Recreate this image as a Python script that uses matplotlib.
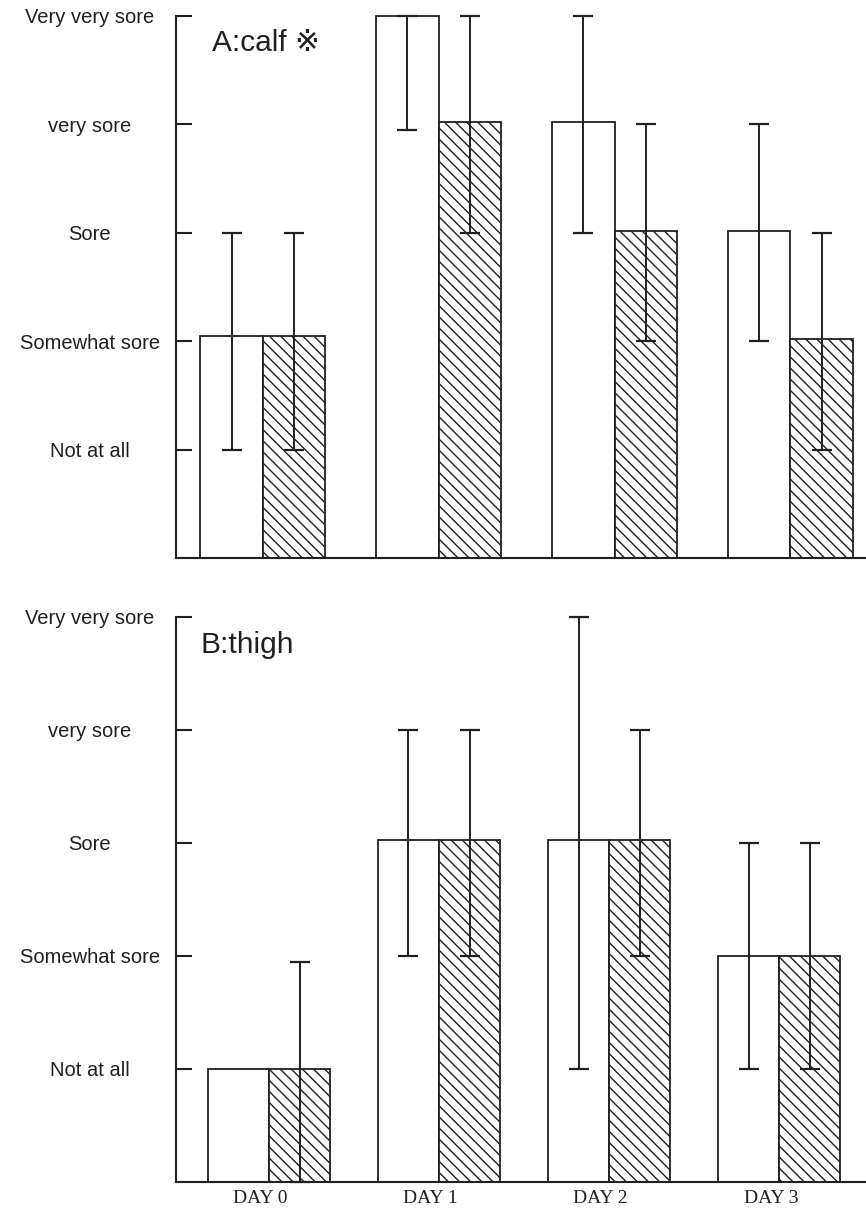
import numpy as np
import matplotlib.pyplot as plt

# soreness scale and days
days = ['DAY 0', 'DAY 1', 'DAY 2', 'DAY 3']
levels = [1, 2, 3, 4, 5]
level_labels = ['Not at all', 'Somewhat sore', 'Sore', 'very sore', 'Very very sore']

# A: calf
calf_white = [2.05, 5.0, 4.02, 3.02]
calf_white_lo = [1.0, 3.95, 3.0, 2.0]
calf_white_hi = [3.0, 5.0, 5.0, 4.0]
calf_hatch = [2.05, 4.02, 3.02, 2.02]
calf_hatch_lo = [1.0, 3.0, 2.0, 1.0]
calf_hatch_hi = [3.0, 5.0, 4.0, 3.0]

# B: thigh
thigh_white = [1.0, 3.03, 3.03, 2.0]
thigh_white_lo = [np.nan, 2.0, 1.0, 1.0]
thigh_white_hi = [np.nan, 4.0, 5.0, 3.0]
thigh_hatch = [1.0, 3.03, 3.03, 2.0]
thigh_hatch_lo = [0.0, 2.0, 2.0, 1.0]
thigh_hatch_hi = [1.95, 4.0, 4.0, 3.0]

ink = '#231f20'
plt.rcParams['hatch.linewidth'] = 1.0
plt.rcParams['hatch.color'] = ink

fig = plt.figure(figsize=(8.66, 12.14), dpi=100)
ax_a = fig.add_axes([0.2032, 0.5404, 0.7968, 0.4465])
ax_b = fig.add_axes([0.2032, 0.0264, 0.7968, 0.4654])


def draw_panel(ax, white, w_lo, w_hi, hatch, h_lo, h_hi, title, xlim, width):
    x = np.arange(len(days))
    white = np.array(white)
    hatch = np.array(hatch)
    ax.bar(x - width, white, width, align='edge', color='white',
           edgecolor=ink, linewidth=1.3, clip_on=False, zorder=2)
    ax.bar(x, hatch, width, align='edge', color='white', edgecolor=ink,
           linewidth=1.3, hatch='\\\\\\', clip_on=False, zorder=2)
    for xs, vals, lo, hi in [(x - width / 2, white, w_lo, w_hi),
                             (x + width / 2, hatch, h_lo, h_hi)]:
        lo = np.array(lo)
        hi = np.array(hi)
        err = [vals - lo, hi - vals]
        eb = ax.errorbar(xs, vals, yerr=err, fmt='none', ecolor=ink,
                         elinewidth=1.4, capsize=7.2, capthick=1.6, zorder=3)
        for art in eb.lines[1] + eb.lines[2]:
            art.set_clip_on(False)

    ax.set_xlim(*xlim)
    ax.set_ylim(0, 5)
    ax.set_yticks(levels)
    ax.set_yticklabels(level_labels, fontsize=14.5, family='Liberation Sans',
                       color=ink, ha='center')
    ax.tick_params(axis='y', direction='in', length=11.5, width=1.5,
                   color=ink, pad=62)
    ax.spines['top'].set_visible(False)
    ax.spines['right'].set_visible(False)
    for s in ['left', 'bottom']:
        ax.spines[s].set_linewidth(1.5)
        ax.spines[s].set_color(ink)
    ax.text(title[1], title[2], title[0], transform=ax.transAxes,
            fontsize=21.5, family=['Liberation Sans', 'DejaVu Sans'],
            color=ink, va='baseline', ha='left')
    return x


x = draw_panel(ax_a, calf_white, calf_white_lo, calf_white_hi,
               calf_hatch, calf_hatch_lo, calf_hatch_hi,
               ('A:calf \u203b', 0.052, 0.936), (-0.494, 3.43), 0.355)
ax_a.set_xticks([])

x = draw_panel(ax_b, thigh_white, thigh_white_lo, thigh_white_hi,
               thigh_hatch, thigh_hatch_lo, thigh_hatch_hi,
               ('B:thigh', 0.035, 0.936), (-0.547, 3.51), 0.36)
ax_b.set_xticks(x - 0.05)
ax_b.set_xticklabels(days, fontsize=14, family='Liberation Serif', color=ink)
ax_b.tick_params(axis='x', length=0, pad=6)

fig.savefig('out.png', dpi=100)
